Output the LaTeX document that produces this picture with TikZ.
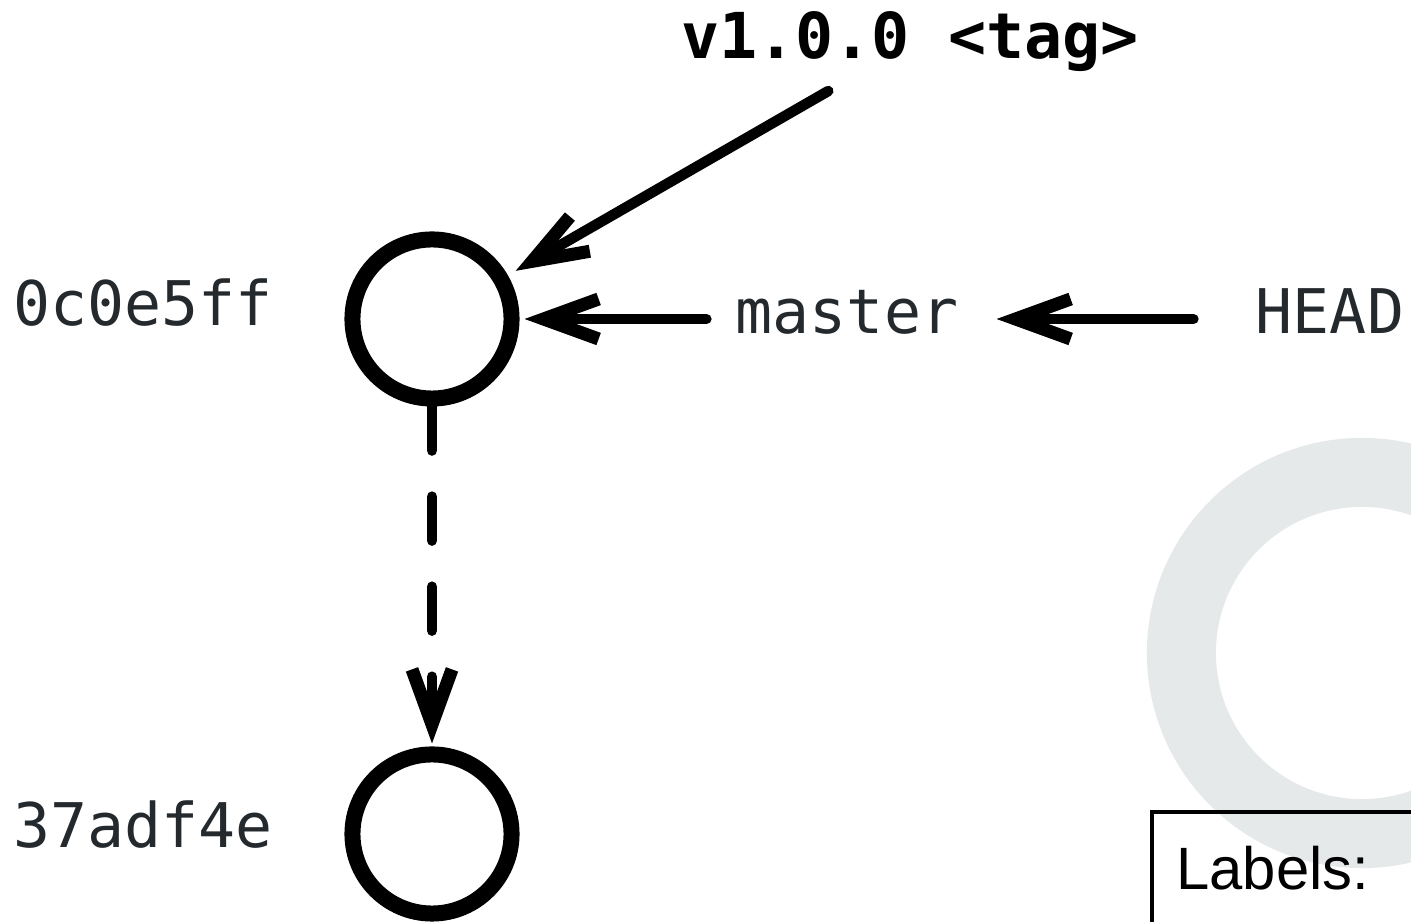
\documentclass[tikz,border=0pt]{standalone}
\usepackage{fontspec}
\setmonofont{DejaVu Sans Mono}
\setsansfont{Liberation Sans}
\usepackage{tikz}
\usetikzlibrary{arrows.meta}
\usetikzlibrary{positioning}
\definecolor{hashgray}{HTML}{24292E}
\definecolor{ringgray}{HTML}{E6E9EA}

\begin{document}
\begin{tikzpicture}
          [x=0.01cm, y=-0.01cm,
           commit/.style={draw, circle, line width=0.16cm, minimum size=1.59cm, inner sep=0pt},
           hash/.style={font=\ttfamily\fontsize{17.5pt}{20pt}\selectfont, text=hashgray, text height=11pt, text depth=3pt},
           ptr/.style={line width=0.105cm, line cap=round, -{Straight Barb[length=0.55cm, width=0.4cm, line width'=0.13cm]}}]
          \useasboundingbox (0,0) rectangle (1411,922);
          \clip (0,0) rectangle (1411,922);

          % ring and box in the corner
          \draw[ringgray, line width=0.69cm] (1362,653) circle (1.805cm);
          \draw[line width=0.045cm] (1152,812) rectangle (1600,1100);
          \node (lbl) [font=\sffamily\fontsize{17pt}{20pt}\selectfont, anchor=base west] at (1164,890) {Labels:};

          \node (c1) [commit] at (432,319) {};
          \node (c2) [commit] at (432,834) {};
          \node (h1) [hash, anchor=east] at (285,311) {0c0e5ff};
          \node (h2) [hash, anchor=east] at (285,833) {37adf4e};

          \node (m) [hash] at (847,319) {master};
          \node (hd) [hash] at (1330,319) {HEAD};
          \node (t) [hash, font=\ttfamily\bfseries\fontsize{18pt}{20pt}\selectfont, text=black] at (910,44) {v1.0.0 <tag>};

          \draw[ptr, shorten <=0.2cm, shorten >=0.09cm] (t) -- (c1);
          \draw[ptr, shorten <=0.17cm, shorten >=0.05cm] (m) -- (c1);
          \draw[ptr, shorten <=0.5cm, shorten >=0.26cm] (hd) -- (m);
          \draw[ptr, dash pattern=on 0.44cm off 0.46cm, shorten >=0.03cm] (c1) -- (c2);

        \end{tikzpicture}
\end{document}
